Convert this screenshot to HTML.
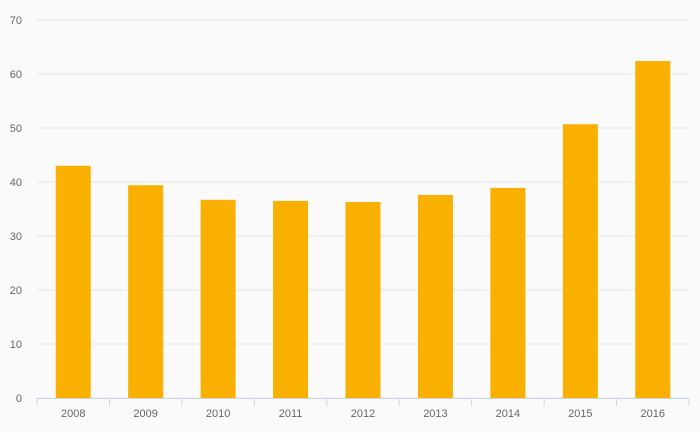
<!DOCTYPE html>
<html><head><meta charset="utf-8"><style>
html,body{margin:0;padding:0;background:#fafafa;}
svg{display:block;font-family:"Liberation Sans",sans-serif;}
</style></head><body>
<svg id="chart" width="700" height="433"></svg>
<script>
const categories=["2008","2009","2010","2011","2012","2013","2014","2015","2016"];
const values=[43,39.4,36.7,36.5,36.3,37.6,38.9,50.7,62.4];
const yTicks=[0,10,20,30,40,50,60,70];
const svg=document.getElementById('chart');
const NS="http://www.w3.org/2000/svg";
const L=37,R=689,T=20,B=398,yMax=70;
const y=v=>B-(v/yMax)*(B-T);
const band=(R-L)/categories.length;
const x=i=>L+band*i;
function mk(tag,attrs){const e=document.createElementNS(NS,tag);for(const k in attrs)e.setAttribute(k,attrs[k]);svg.appendChild(e);return e;}
yTicks.forEach(t=>{
  const g=mk('line',{x1:L,x2:R,y1:y(t),y2:y(t),stroke:'#e6e6e6','stroke-width':1});
  
  
  const tx=mk('text',{x:22,y:y(t)+4,'text-anchor':'end','font-size':11,fill:'#666'});
  tx.textContent=t;
  
  
});
categories.forEach((c,i)=>{
  const bw=35;
  const r=mk('rect',{x:x(i)+band/2-bw/2,y:y(values[i]),width:bw,height:B-y(values[i]),fill:'#f9b000'});
  
  
  const tx=mk('text',{x:x(i)+band/2,y:417,'text-anchor':'middle','font-size':11,fill:'#666'});
  tx.textContent=c;
  
  
});
for(let i=0;i<=categories.length;i++){
  const tk=mk('line',{x1:x(i),x2:x(i),y1:B,y2:B+8,stroke:'#ccd6eb','stroke-width':1});
  
  
}
const ax=mk('line',{x1:L,x2:R,y1:B+0.5,y2:B+0.5,stroke:'#ccd6eb','stroke-width':1});


</script>
</body></html>
